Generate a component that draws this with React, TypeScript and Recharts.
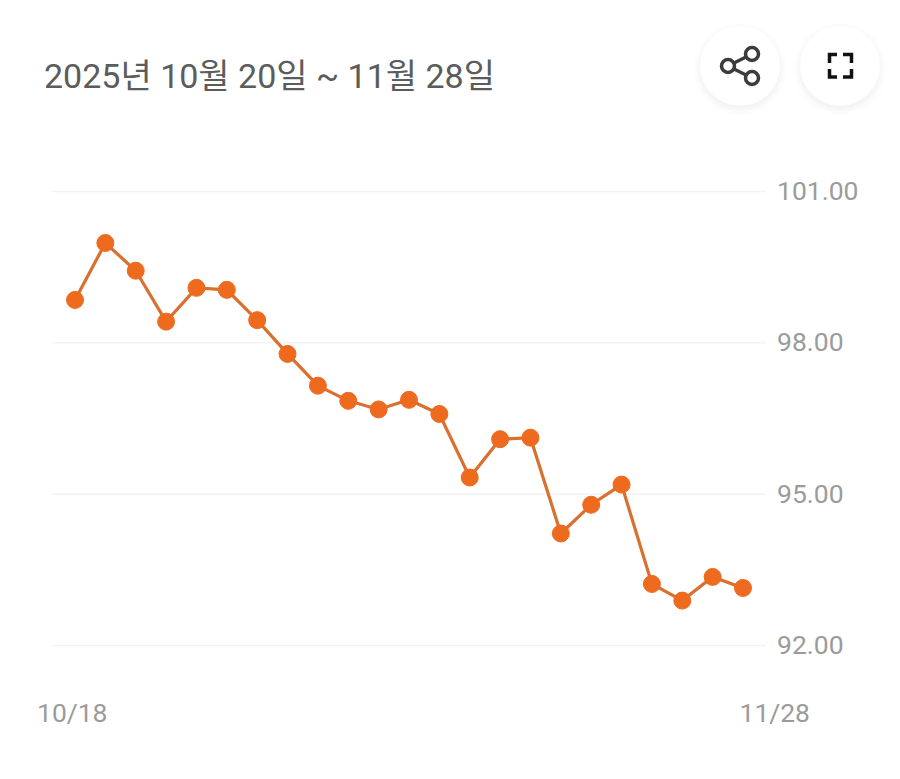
import { CartesianGrid, Line, LineChart, XAxis, YAxis } from 'recharts'

const dates = [
  '10/18', '10/20', '10/22', '10/24', '10/26', '10/28', '10/30', '11/1',
  '11/3', '11/5', '11/7', '11/9', '11/10', '11/12', '11/14', '11/16',
  '11/18', '11/20', '11/21', '11/23', '11/25', '11/26', '11/28',
]
const prices = [
  98.85, 99.98, 99.43, 98.42, 99.09, 99.05, 98.45, 97.78,
  97.15, 96.85, 96.68, 96.87, 96.59, 95.33, 96.09, 96.12,
  94.22, 94.79, 95.19, 93.22, 92.89, 93.36, 93.14,
]
const yTicks = [92, 95, 98, 101]
const xTicks = ['10/18', '11/28']

const chartData = dates.map((date, i) => ({ date, price: prices[i] }))

const FONT = 'Roboto, "Noto Sans CJK KR", sans-serif'

// the two date labels sit off their points, so they get nudged here
function DateTick({ x, y, payload }: any) {
  const first = payload.value === xTicks[0]
  return (
    <text
      x={first ? x - 38 : x + 67}
      y={y}
      dy={68}
      textAnchor={first ? 'start' : 'end'}
      fill="#9b9b9b"
      fontSize={26.5}
      fontFamily={FONT}
    >
      {payload.value}
    </text>
  )
}

function RoundButton({ left, children }: { left: number; children: React.ReactNode }) {
  return (
    <div
      style={{
        position: 'absolute',
        left,
        top: 26,
        width: 80,
        height: 80,
        borderRadius: '50%',
        background: '#fff',
        boxShadow: '0 3px 10px rgba(0,0,0,0.08)',
      }}
    >
      <svg width={80} height={80} fill="none" stroke="#3c3c3c" strokeWidth={3.5}>
        {children}
      </svg>
    </div>
  )
}

export default function App() {
  return (
    <div style={{ position: 'absolute', left: 0, top: 0, width: 900, height: 779, background: '#fff', overflow: 'hidden' }}>
      <LineChart
        width={900}
        height={779}
        data={chartData}
        margin={{ top: 191.5, right: 0, bottom: 0, left: 52 }}
      >
        <CartesianGrid vertical={false} stroke="#f3f3f3" strokeWidth={1.5} />
        <XAxis
          dataKey="date"
          ticks={xTicks}
          interval={0}
          height={133.5}
          padding={{ left: 23, right: 23 }}
          axisLine={false}
          tickLine={false}
          tick={<DateTick />}
        />
        <YAxis
          orientation="right"
          width={134}
          domain={[92, 101]}
          ticks={yTicks}
          axisLine={false}
          tickLine={false}
          tickMargin={5}
          tickFormatter={(v: number) => v.toFixed(2)}
          tick={{ fill: '#9b9b9b', fontSize: 26.5, fontFamily: FONT, dy: -1 }}
        />
        <Line
          type="linear"
          dataKey="price"
          stroke="#d9702f"
          strokeWidth={3.2}
          dot={{ r: 8.5, fill: '#ee6a1f', stroke: '#ee6a1f', strokeWidth: 1 }}
          isAnimationActive={false}
        />
      </LineChart>

      <div
        style={{
          position: 'absolute',
          left: 44,
          top: 53,
          fontFamily: FONT,
          fontSize: 34,
          color: '#5c5c5c',
          whiteSpace: 'nowrap',
          lineHeight: '46px',
        }}
      >
        2025년 10월 20일 ~ 11월 28일
      </div>

      <RoundButton left={700}>
        <circle cx={28} cy={40} r={6.5} />
        <circle cx={52} cy={28} r={6.5} />
        <circle cx={52} cy={52} r={6.5} />
        <path d="M34 37 L46 31 M34 43 L46 49" />
      </RoundButton>
      <RoundButton left={800}>
        <path
          d="M29.5 37 V28.5 H37 M43 28.5 H51.5 V37 M51.5 43 V51 H43 M37 51 H29.5 V43"
          stroke="#111"
        />
      </RoundButton>
    </div>
  )
}
